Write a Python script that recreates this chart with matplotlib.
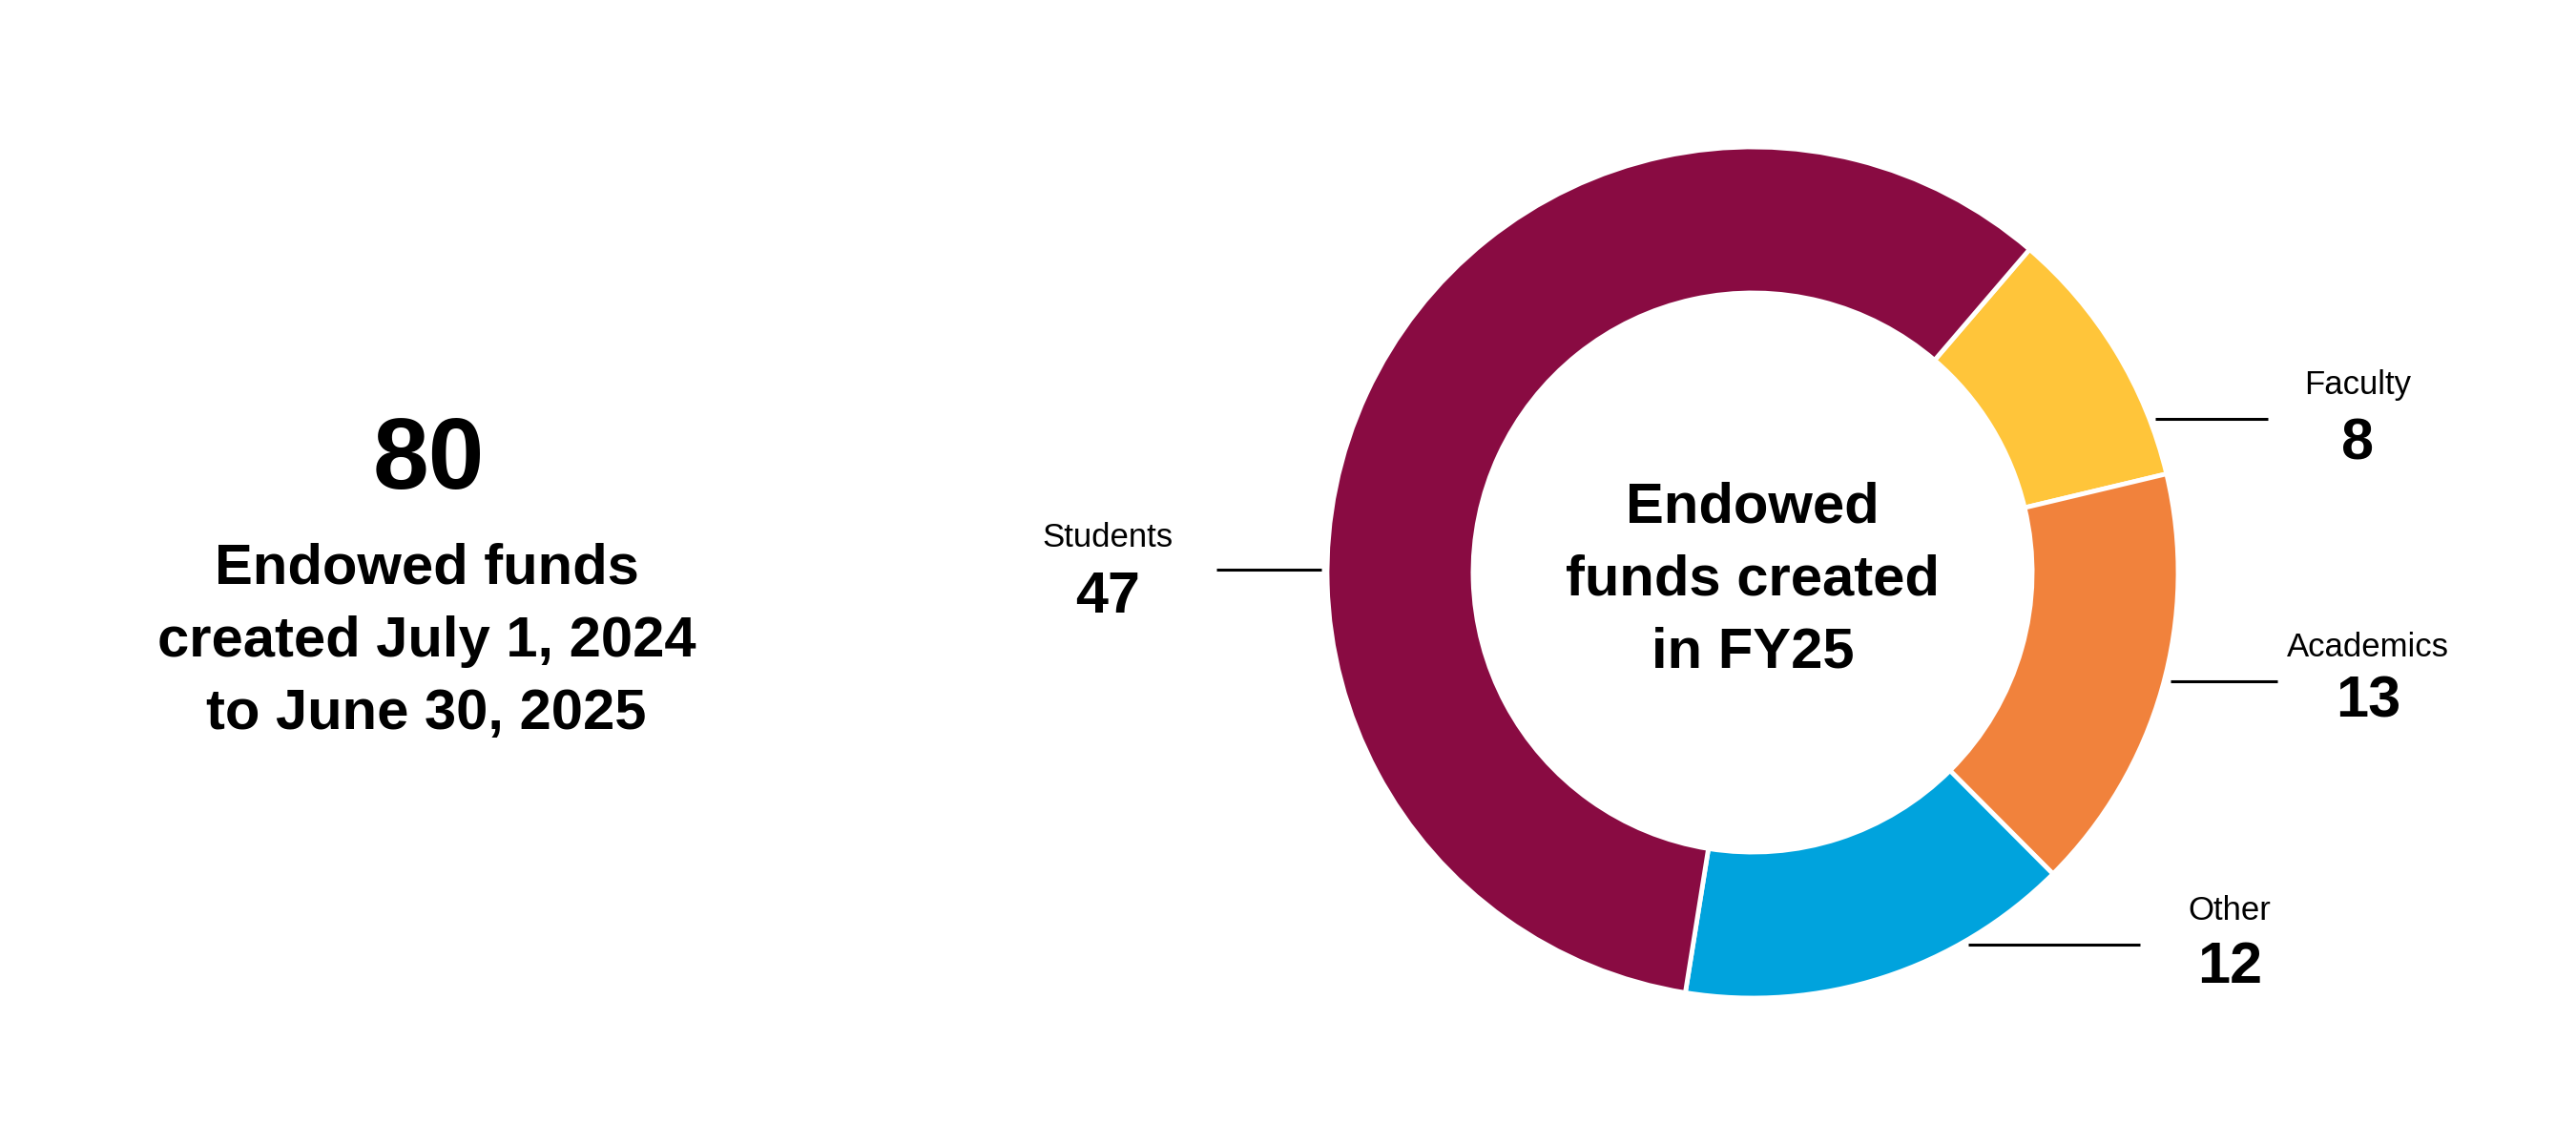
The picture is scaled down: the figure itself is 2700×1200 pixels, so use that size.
import numpy as np
import matplotlib
matplotlib.use("Agg")
import matplotlib.pyplot as plt

plt.rcParams['font.family'] = ['Liberation Sans', 'DejaVu Sans']

# data (clockwise from the top right)
categories = ['Faculty', 'Academics', 'Other', 'Students']
counts = [8, 13, 12, 47]
colors = ['#FFC53A', '#F1823C', '#00A3DD', '#890B42']

total_text = '80'
left_lines = ['Endowed funds', 'created July 1, 2024', 'to June 30, 2025']
center_lines = ['Endowed', 'funds created', 'in FY25']

# layout in pixels of the 2700x1200 picture
W, H = 2700, 1200
cx, cy, R = 1837, 600, 446


def px(x, y):
    # pixel position -> data units (1 unit = donut radius)
    return (x - cx) / R, (cy - y) / R


fig = plt.figure(figsize=(27, 12), dpi=100)
ax = fig.add_axes([0, 0, 1, 1])

ax.pie(counts, colors=colors, startangle=49.4, counterclock=False, radius=1,
       wedgeprops=dict(width=0.343, edgecolor='white', linewidth=3.5))

ax.set_xlim((0 - cx) / R, (W - cx) / R)
ax.set_ylim((cy - H) / R, cy / R)
ax.set_aspect('auto')
ax.axis('off')

# left block
x, y = px(449, 512)
ax.text(x, y, total_text, ha='center', va='baseline', fontsize=76, fontweight='bold')
for i, line in enumerate(left_lines):
    x, y = px(447, 612 + 76 * i)
    ax.text(x, y, line, ha='center', va='baseline', fontsize=43, fontweight='bold')

# center of donut
for i, line in enumerate(center_lines):
    x, y = px(cx, 547 + 76 * i)
    ax.text(x, y, line, ha='center', va='baseline', fontsize=43, fontweight='bold')

# labels: text x, name baseline, number baseline, leader line x0, x1, y
lab_x = [2471, 2482, 2337, 1161]
name_y = [413, 688, 964, 573]
num_y = [482, 752, 1030, 642]
line_x0 = [2259, 2275, 2063, 1275]
line_x1 = [2377, 2387, 2243, 1385]
line_y = [439, 714, 990, 597]

for i, cat in enumerate(categories):
    x, y = px(lab_x[i], name_y[i])
    ax.text(x, y, cat, ha='center', va='baseline', fontsize=25)
    x, y = px(lab_x[i], num_y[i])
    ax.text(x, y, str(counts[i]), ha='center', va='baseline', fontsize=44, fontweight='bold')
    xa, ya = px(line_x0[i], line_y[i])
    xb, yb = px(line_x1[i], line_y[i])
    ax.plot([xa, xb], [ya, yb], color='black', lw=2.2, solid_capstyle='butt')

fig.savefig('out.png', dpi=100, facecolor='white')
